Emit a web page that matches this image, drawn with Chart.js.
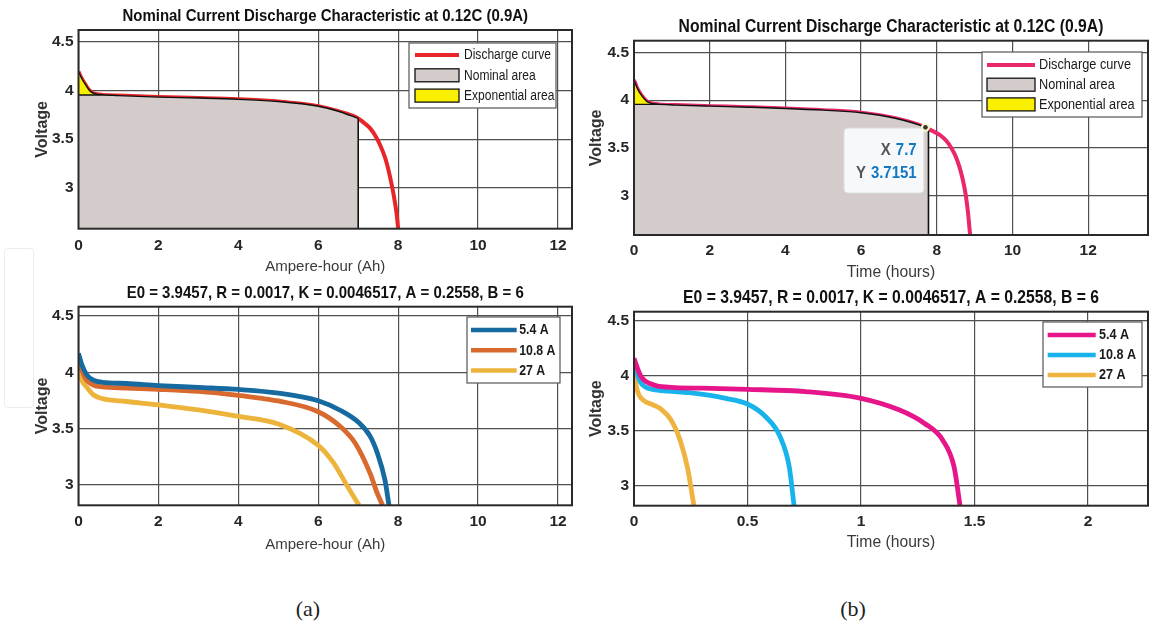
<!DOCTYPE html>
<html>
<head>
<meta charset="utf-8">
<script src="https://cdn.jsdelivr.net/npm/chart.js@4.4.0/dist/chart.umd.min.js"></script>
<style>
  body { margin: 0; width: 1151px; height: 629px; background: #fff; position: relative; overflow: hidden; }
  canvas { position: absolute; }
  .cap { position: absolute; top: 596px; width: 60px; text-align: center; font: 22px "Liberation Serif", "DejaVu Serif", serif; color: #222; }
  .ghost { position: absolute; left: 4px; top: 248px; width: 28px; height: 158px; border: 1.5px solid #ececec; border-radius: 4px; }
</style>
</head>
<body>
<div class="ghost"></div>
<canvas id="ahNominalChart"></canvas>
<canvas id="hNominalChart"></canvas>
<canvas id="ahRatesChart"></canvas>
<canvas id="hRatesChart"></canvas>
<div class="cap" style="left:278px">(a)</div>
<div class="cap" style="left:823px">(b)</div>
<script>
// ---- data ----
// nominal discharge at 0.9 A, voltage vs capacity (Ah)
const ahNominal = [0, 0.08, 0.17, 0.25, 0.33, 0.45, 0.6, 1, 2, 3, 4, 5, 6, 6.5, 7, 7.15, 7.3, 7.45, 7.57, 7.68, 7.76, 7.84, 7.9, 7.96, 8.0];
const vNominalAh = [4.19, 4.12, 4.06, 4.01, 3.978, 3.96, 3.952, 3.945, 3.93, 3.92, 3.907, 3.885, 3.836, 3.785, 3.712, 3.665, 3.61, 3.52, 3.42, 3.3, 3.18, 3.03, 2.9, 2.74, 2.584];
const ahExpEnd = 0.6;
const ahNomEnd = 7;

// nominal discharge at 0.9 A, voltage vs time (hours)
const hNominal = [0, 0.09, 0.18, 0.28, 0.37, 0.5, 0.65, 1.1, 2, 3, 4, 5, 6, 6.9, 7.7, 7.78, 7.95, 8.1, 8.25, 8.4, 8.5, 8.6, 8.68, 8.76, 8.82, 8.88];
const vNominalH = [4.21, 4.12, 4.06, 4.01, 3.978, 3.962, 3.955, 3.948, 3.937, 3.926, 3.913, 3.895, 3.868, 3.81, 3.7151, 3.698, 3.665, 3.63, 3.575, 3.49, 3.41, 3.3, 3.18, 3.02, 2.84, 2.59];
const hExpEnd = 0.65;
const hNomEnd = 7.78;
const tipHours = 7.7;
const tipVolts = 3.7151;

// three discharge rates vs capacity (Ah)
const ah54 = [0, 0.08, 0.2, 0.37, 0.6, 1.2, 2, 3, 4, 5, 6, 6.56, 7.02, 7.3, 7.48, 7.67, 7.77];
const v54Ah = [4.168, 4.07, 3.98, 3.93, 3.91, 3.9, 3.882, 3.865, 3.847, 3.815, 3.747, 3.66, 3.55, 3.43, 3.28, 3.04, 2.817];
const ah108 = [0, 0.08, 0.2, 0.37, 0.6, 1.2, 2, 3, 4, 4.54, 5, 6, 6.56, 6.93, 7.3, 7.48, 7.61];
const v108Ah = [4.125, 4.02, 3.93, 3.887, 3.87, 3.86, 3.849, 3.83, 3.795, 3.77, 3.745, 3.649, 3.515, 3.366, 3.098, 2.92, 2.817];
const ah27 = [0, 0.08, 0.2, 0.37, 0.6, 1.2, 2, 3, 4, 5, 6, 6.37, 6.74, 7.02];
const v27Ah = [4.035, 3.93, 3.87, 3.8, 3.765, 3.74, 3.71, 3.665, 3.608, 3.54, 3.35, 3.2, 2.98, 2.817];

// three discharge rates vs time (hours)
const h54 = [0, 0.01, 0.027, 0.045, 0.067, 0.1, 0.163, 0.3, 0.5, 0.756, 1.0, 1.17, 1.28, 1.36, 1.41, 1.436];
const v54H = [4.16, 4.1, 4.01, 3.96, 3.933, 3.91, 3.896, 3.888, 3.878, 3.857, 3.796, 3.689, 3.567, 3.415, 3.17, 2.818];
const h108 = [0, 0.01, 0.027, 0.05, 0.083, 0.15, 0.243, 0.404, 0.5, 0.58, 0.644, 0.684, 0.705];
const v108H = [4.13, 4.05, 3.948, 3.9, 3.878, 3.862, 3.848, 3.796, 3.744, 3.628, 3.445, 3.17, 2.818];
const h27 = [0, 0.006, 0.019, 0.035, 0.051, 0.08, 0.115, 0.163, 0.203, 0.235, 0.264];
const v27H = [4.04, 3.95, 3.84, 3.79, 3.765, 3.74, 3.704, 3.598, 3.415, 3.17, 2.818];

const rateLabels = ['5.4 A', '10.8 A', '27 A'];
const nominalTitle = 'Nominal Current Discharge Characteristic at 0.12C (0.9A)';
const paramTitle = 'E0 = 3.9457, R = 0.0017, K = 0.0046517, A = 0.2558, B = 6';

// ---- helpers ----
const FONT = '"Liberation Sans", Arial, Helvetica, sans-serif';
Chart.defaults.font.family = FONT;

const pts = (xs, ys) => xs.map((x, i) => ({ x, y: ys[i] }));

// narrow text: draw with a horizontal squeeze
function squeezedText(ctx, text, x, y, sx) {
  ctx.save();
  ctx.translate(x, y);
  ctx.scale(sx, 1);
  ctx.fillText(text, 0, 0);
  ctx.restore();
}

// axes box drawn over the data like a MATLAB axes
const frame = {
  id: 'frame',
  afterDatasetsDraw(chart) {
    const { ctx, chartArea: a } = chart;
    ctx.save();
    ctx.strokeStyle = '#2a2a2a';
    ctx.lineWidth = 2;
    ctx.strokeRect(a.left, a.top, a.right - a.left, a.bottom - a.top);
    ctx.restore();
  }
};

// title centred on the plot area
const panelTitle = {
  id: 'panelTitle',
  afterDraw(chart, args, o) {
    const { ctx, chartArea: a } = chart;
    ctx.save();
    ctx.font = `bold ${o.size}px ${FONT}`;
    ctx.fillStyle = '#111';
    ctx.textAlign = 'center';
    ctx.textBaseline = 'middle';
    squeezedText(ctx, o.text, (a.left + a.right) / 2, a.top - o.gap, o.squeeze);
    ctx.restore();
  }
};

// legend box inside the upper right corner
const boxLegend = {
  id: 'boxLegend',
  afterDraw(chart, args, o) {
    const { ctx, chartArea: a } = chart;
    const items = chart.data.datasets.filter(d => d.legendKind);
    const x0 = a.right - o.right - o.width;
    const y0 = a.top + o.top;
    ctx.save();
    ctx.fillStyle = '#fff';
    ctx.fillRect(x0, y0, o.width, o.height);
    ctx.strokeStyle = '#555';
    ctx.lineWidth = 1.2;
    ctx.strokeRect(x0, y0, o.width, o.height);
    ctx.font = o.font;
    ctx.textBaseline = 'middle';
    ctx.textAlign = 'left';
    items.forEach((d, i) => {
      const cy = y0 + o.firstRow + i * o.rowGap;
      const sx = x0 + o.sampleLeft;
      if (d.legendKind === 'line') {
        ctx.strokeStyle = d.borderColor;
        ctx.lineWidth = o.lineWidth;
        ctx.beginPath();
        ctx.moveTo(sx, cy);
        ctx.lineTo(sx + o.sampleWidth, cy);
        ctx.stroke();
      } else {
        ctx.fillStyle = d.backgroundColor;
        ctx.fillRect(sx, cy - o.boxH / 2, o.sampleWidth, o.boxH);
        ctx.strokeStyle = '#111';
        ctx.lineWidth = 1.3;
        ctx.strokeRect(sx, cy - o.boxH / 2, o.sampleWidth, o.boxH);
      }
      ctx.fillStyle = '#1a1a1a';
      squeezedText(ctx, d.label, sx + o.sampleWidth + o.textGap, cy + 0.5, o.squeeze);
    });
    ctx.restore();
  }
};

// data tip with marker and X / Y read-out
const dataTip = {
  id: 'dataTip',
  afterDraw(chart, args, o) {
    const { ctx } = chart;
    const px = chart.scales.x.getPixelForValue(o.x);
    const py = chart.scales.y.getPixelForValue(o.y);
    ctx.save();
    const bx = px - o.dx - o.w, by = py + o.dy;
    ctx.beginPath();
    ctx.roundRect(bx, by, o.w, o.h, 4);
    ctx.fillStyle = 'rgba(248,250,252,0.96)';
    ctx.fill();
    ctx.strokeStyle = '#dcdcdc';
    ctx.lineWidth = 1;
    ctx.stroke();
    ctx.beginPath();
    ctx.arc(px, py, 4.5, 0, Math.PI * 2);
    ctx.fillStyle = '#fbf6c8';
    ctx.fill();
    ctx.beginPath();
    ctx.arc(px, py, 2.3, 0, Math.PI * 2);
    ctx.fillStyle = '#333';
    ctx.fill();
    ctx.font = `bold 17px ${FONT}`;
    ctx.textBaseline = 'middle';
    ctx.textAlign = 'right';
    const right = bx + o.w - o.padRight;
    [['X', String(o.x)], ['Y', String(o.y)]].forEach(([name, val], i) => {
      const cy = by + o.row1 + i * o.rowGap;
      ctx.fillStyle = '#0f78c0';
      squeezedText(ctx, val, right, cy, 0.88);
      const w = ctx.measureText(val).width * 0.88;
      ctx.fillStyle = '#555';
      squeezedText(ctx, name, right - w - 5, cy, 0.88);
    });
    ctx.restore();
  }
};

function panel(id, g) {
  const cv = document.getElementById(id);
  cv.width = g.w;
  cv.height = g.h;
  cv.style.left = g.left + 'px';
  cv.style.top = g.top + 'px';
  const a = g.area;
  const tickFont = { size: 15.5, weight: 'bold', lineHeight: 1.2 };
  const grid = { color: '#505050', lineWidth: 1.2, drawTicks: false };
  return new Chart(cv, {
    type: 'line',
    data: { datasets: g.datasets },
    options: {
      responsive: false,
      animation: false,
      events: [],
      layout: { padding: { left: 0, bottom: 0, top: a.t - g.top, right: g.left + g.w - a.r } },
      elements: { point: { radius: 0 }, line: { cubicInterpolationMode: 'monotone' } },
      scales: {
        x: {
          type: 'linear', min: 0, max: g.xMax,
          afterFit: s => { s.height = g.top + g.h - a.b; },
          ticks: { stepSize: g.xStep, includeBounds: false, padding: g.xTickPad, maxRotation: 0, autoSkip: false,
                   color: '#262626', font: tickFont, callback: v => String(v) },
          grid, border: { display: false },
          title: { display: true, text: g.xTitle, color: '#3a3a3a',
                   font: { size: g.fs, lineHeight: 1.2 }, padding: { top: 0, bottom: g.xTitlePad } }
        },
        y: {
          type: 'linear', min: g.yMin, max: g.yMax,
          afterFit: s => { s.width = a.l - g.left; },
          ticks: { stepSize: 0.5, includeBounds: false, padding: 5, color: '#262626', font: tickFont,
                   callback: v => String(v) },
          grid, border: { display: false },
          title: { display: true, text: 'Voltage', color: '#333',
                   font: { size: 16, weight: 'bold', lineHeight: 1 }, padding: { top: g.yTitlePad, bottom: 0 } }
        }
      },
      plugins: {
        legend: { display: false },
        tooltip: { enabled: false },
        panelTitle: { text: g.title, size: g.fs * 1.13, squeeze: 0.885, gap: 13.5 },
        boxLegend: g.legend,
        dataTip: g.tip
      }
    },
    plugins: [frame, panelTitle, boxLegend].concat(g.tip ? [dataTip] : [])
  });
}

// nominal-area datasets: curve, exponential zone, nominal zone, nominal edge
function nominalSets(xs, ys, expEnd, nomEnd, yMin, curveColor) {
  const all = pts(xs, ys);
  const expV = all.find(p => p.x === expEnd).y;
  const nomV = all.find(p => p.x === nomEnd).y;
  return [
    { label: 'Discharge curve', legendKind: 'line', data: all, borderColor: curveColor, borderWidth: 4, order: 5 },
    { label: 'Nominal area', legendKind: 'box',
      data: [{ x: 0, y: expV }].concat(all.filter(p => p.x >= expEnd && p.x <= nomEnd)),
      borderColor: '#111', borderWidth: 1.4, backgroundColor: '#d3ccca', fill: 'start', order: 3 },
    { label: 'Exponential area', legendKind: 'box',
      data: all.filter(p => p.x <= expEnd),
      borderColor: '#111', borderWidth: 1.4, backgroundColor: '#f8f000', fill: 'start', order: 4 },
    { data: [{ x: nomEnd, y: nomV }, { x: nomEnd, y: yMin }],
      borderColor: '#111', borderWidth: 1.6, cubicInterpolationMode: 'default', tension: 0, order: 2 }
  ];
}

function rateSets(series, colors) {
  return series.map(([xs, ys], i) => ({
    label: rateLabels[i], legendKind: 'line', data: pts(xs, ys),
    borderColor: colors[i], borderWidth: 4.8, order: i
  }));
}

panel('ahNominalChart', {
  left: 0, top: 0, w: 580, h: 290,
  area: { l: 78.5, t: 30, r: 572, b: 228.7 },
  xMax: 12.35, xStep: 2, yMin: 2.584, yMax: 4.616,
  xTitle: 'Ampere-hour (Ah)', title: nominalTitle, fs: 15,
  xTickPad: 7.3, xTitlePad: 14.3, yTitlePad: 34.6,
  datasets: nominalSets(ahNominal, vNominalAh, ahExpEnd, ahNomEnd, 2.584, '#e8262a'),
  legend: { right: 16, top: 13, width: 147, height: 65, firstRow: 12, rowGap: 20.3,
            sampleLeft: 6, sampleWidth: 44, textGap: 5, boxH: 13, lineWidth: 4,
            font: `14px ${FONT}`, squeeze: 0.86 }
});

panel('hNominalChart', {
  left: 575, top: 0, w: 576, h: 290,
  area: { l: 634, t: 40.7, r: 1148, b: 235 },
  xMax: 13.58, xStep: 2, yMin: 2.59, yMax: 4.621,
  xTitle: 'Time (hours)', title: nominalTitle, fs: 15.7,
  xTickPad: 6.7, xTitlePad: 8, yTitlePad: 13.4,
  datasets: nominalSets(hNominal, vNominalH, hExpEnd, hNomEnd, 2.59, '#e8286a'),
  legend: { right: 6, top: 11.3, width: 160, height: 65, firstRow: 13, rowGap: 19.7,
            sampleLeft: 5, sampleWidth: 48, textGap: 4, boxH: 13, lineWidth: 4,
            font: `14px ${FONT}`, squeeze: 0.91 },
  tip: { x: tipHours, y: tipVolts, dx: 1.5, dy: 0.7, w: 80, h: 65, padRight: 7.3, row1: 22.7, rowGap: 22.6 }
});

panel('ahRatesChart', {
  left: 0, top: 278, w: 580, h: 292,
  area: { l: 78.5, t: 306.7, r: 572, b: 505.3 },
  xMax: 12.35, xStep: 2, yMin: 2.817, yMax: 4.583,
  xTitle: 'Ampere-hour (Ah)', title: paramTitle, fs: 15,
  xTickPad: 7.4, xTitlePad: 16, yTitlePad: 34.6,
  datasets: rateSets([[ah54, v54Ah], [ah108, v108Ah], [ah27, v27Ah]], ['#176aa0', '#d8692f', '#edb43c']),
  legend: { right: 12, top: 10.3, width: 93, height: 66, firstRow: 13, rowGap: 20.3,
            sampleLeft: 4, sampleWidth: 45.7, textGap: 2.5, boxH: 13, lineWidth: 4.5,
            font: `bold 14px ${FONT}`, squeeze: 0.88 }
});

panel('hRatesChart', {
  left: 575, top: 278, w: 576, h: 292,
  area: { l: 634, t: 311.7, r: 1148, b: 505.7 },
  xMax: 2.264, xStep: 0.5, yMin: 2.818, yMax: 4.585,
  xTitle: 'Time (hours)', title: paramTitle, fs: 15.7,
  xTickPad: 7, xTitlePad: 17.7, yTitlePad: 13.4,
  datasets: rateSets([[h54, v54H], [h108, v108H], [h27, v27H]], ['#e6168a', '#17b3ea', '#efb43f']),
  legend: { right: 6, top: 10.3, width: 99, height: 65, firstRow: 13, rowGap: 20,
            sampleLeft: 4.7, sampleWidth: 48, textGap: 3.3, boxH: 13, lineWidth: 4.5,
            font: `bold 14px ${FONT}`, squeeze: 0.9 }
});
</script>
</body>
</html>
